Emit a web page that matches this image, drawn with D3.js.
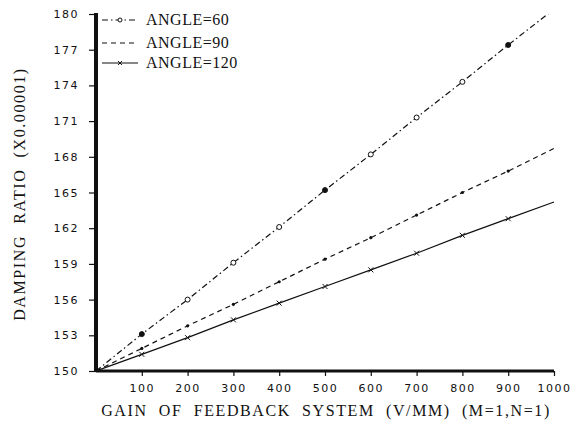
<!DOCTYPE html>
<html>
<head>
  <meta charset="utf-8">
  <style>
    body { margin: 0; background: #fff; }
    svg text { fill: #111; }
    .tick text { font-family: "DejaVu Sans", sans-serif; font-size: 11px; letter-spacing: 1.5px; }
    .title { font-family: "Liberation Serif", serif; font-size: 16px; letter-spacing: 1.6px; }
    .legend text { font-family: "Liberation Serif", serif; font-size: 16px; letter-spacing: 0.5px; }
  </style>
</head>
<body>
  <svg id="chart" width="579" height="423"></svg>
  <script src="https://d3js.org/d3.v7.min.js"></script>
  <script>
    // gain values (V/MM)
    var gain = [0, 100, 200, 300, 400, 500, 600, 700, 800, 900, 1000];
    var angle60 = [150, 153.1, 156.0, 159.1, 162.1, 165.2, 168.2, 171.3, 174.3, 177.4, 180.4];
    var angle90 = [150, 151.9, 153.8, 155.6, 157.5, 159.4, 161.2, 163.1, 165.0, 166.8, 168.7];
    var angle120 = [150, 151.4, 152.8, 154.3, 155.7, 157.1, 158.5, 159.9, 161.4, 162.8, 164.2];
    var xTicks = [100, 200, 300, 400, 500, 600, 700, 800, 900, 1000];
    var yTicks = [150, 153, 156, 159, 162, 165, 168, 171, 174, 177, 180];
    var seriesNames = ['ANGLE=60', 'ANGLE=90', 'ANGLE=120'];

    var mLeft = 96, mRight = 554, mTop = 14, mBottom = 371;
    var svg = d3.select('#chart');

    var x = d3.scaleLinear().domain([0, 1000]).range([mLeft, mRight]);
    var y = d3.scaleLinear().domain([150, 180]).range([mBottom, mTop]);

    svg.append('defs').append('clipPath').attr('id', 'plot')
      .append('rect').attr('x', mLeft).attr('y', mTop)
      .attr('width', mRight - mLeft + 2).attr('height', mBottom - mTop);

    var series = [
      { name: seriesNames[0], values: angle60, dash: '6,3,1.5,3', marker: 'circle' },
      { name: seriesNames[1], values: angle90, dash: '5,4', marker: 'dot' },
      { name: seriesNames[2], values: angle120, dash: null, marker: 'cross' }
    ];

    var line = d3.line()
      .x(function (d) { return x(d[0]); })
      .y(function (d) { return y(d[1]); });

    var plot = svg.append('g').attr('clip-path', 'url(#plot)');

    series.forEach(function (s) {
      var pts = gain.map(function (g, i) { return [g, s.values[i]]; });
      plot.append('path')
        .datum(pts)
        .attr('d', line)
        .attr('fill', 'none')
        .attr('stroke', '#111')
        .attr('stroke-width', 1.2)
        .attr('stroke-dasharray', s.dash);
      var marks = plot.selectAll(null).data(pts.slice(1, 10)).enter();
      drawMarker(marks, s.marker);
    });

    function drawMarker(sel, type) {
      if (type === 'circle') {
        sel.append('circle')
          .attr('cx', function (d) { return x(d[0]); })
          .attr('cy', function (d) { return y(d[1]); })
          .attr('r', 2.5)
          .attr('fill', function (d, i) { return (i % 4 === 0) ? '#111' : '#fff'; })
          .attr('stroke', '#111').attr('stroke-width', 1);
      } else if (type === 'dot') {
        sel.append('circle')
          .attr('cx', function (d) { return x(d[0]); })
          .attr('cy', function (d) { return y(d[1]); })
          .attr('r', 1.6)
          .attr('fill', '#111');
      } else {
        sel.append('path')
          .attr('transform', function (d) { return 'translate(' + x(d[0]) + ',' + y(d[1]) + ')'; })
          .attr('d', 'M-2.5,-2.5L2.5,2.5M-2.5,2.5L2.5,-2.5')
          .attr('stroke', '#111').attr('stroke-width', 1);
      }
    }

    // axes
    var yAxis = svg.append('g')
      .attr('class', 'axis')
      .attr('transform', 'translate(' + mLeft + ',0)')
      .call(d3.axisLeft(y).tickValues(yTicks).tickSize(7).tickPadding(10).tickFormat(d3.format('d')));
    var xAxis = svg.append('g')
      .attr('class', 'axis')
      .attr('transform', 'translate(0,' + mBottom + ')')
      .call(d3.axisBottom(x).tickValues(xTicks).tickSize(5).tickPadding(8).tickFormat(d3.format('d')));

    svg.selectAll('.axis .tick line').attr('stroke', '#111').attr('stroke-width', 1.2);
    yAxis.select('.domain').attr('stroke', '#111').attr('stroke-width', 4)
      .attr('d', 'M0,' + (mBottom + 1) + 'V' + (mTop - 1));
    xAxis.select('.domain').attr('stroke', '#111').attr('stroke-width', 3)
      .attr('d', 'M' + mLeft + ',0H' + mRight);

    // titles
    svg.append('text').attr('class', 'title')
      .attr('x', 326).attr('y', 416)
      .attr('text-anchor', 'middle')
      .style('white-space', 'pre')
      .text('GAIN  OF  FEEDBACK  SYSTEM  (V/MM)  (M=1,N=1)');
    svg.append('text').attr('class', 'title')
      .attr('transform', 'translate(25,194) rotate(-90)')
      .attr('text-anchor', 'middle')
      .style('white-space', 'pre')
      .text('DAMPING  RATIO  (X0.00001)');

    // legend
    var legend = svg.append('g').attr('class', 'legend');
    var rowsY = [20, 43, 63];
    series.forEach(function (s, i) {
      var ly = rowsY[i];
      legend.append('line')
        .attr('x1', 102).attr('x2', 138).attr('y1', ly).attr('y2', ly)
        .attr('stroke', '#111').attr('stroke-width', 1.2)
        .attr('stroke-dasharray', s.dash);
      var g = legend.append('g').attr('transform', 'translate(120,' + ly + ')');
      if (s.marker === 'circle') {
        g.append('circle').attr('r', 2).attr('fill', '#fff').attr('stroke', '#111');
      } else if (s.marker === 'cross') {
        g.append('path').attr('d', 'M-2,-2L2,2M-2,2L2,-2').attr('stroke', '#111');
      }
      legend.append('text')
        .attr('x', 146).attr('y', ly + 5)
        .text(s.name);
    });
  </script>
</body>
</html>
